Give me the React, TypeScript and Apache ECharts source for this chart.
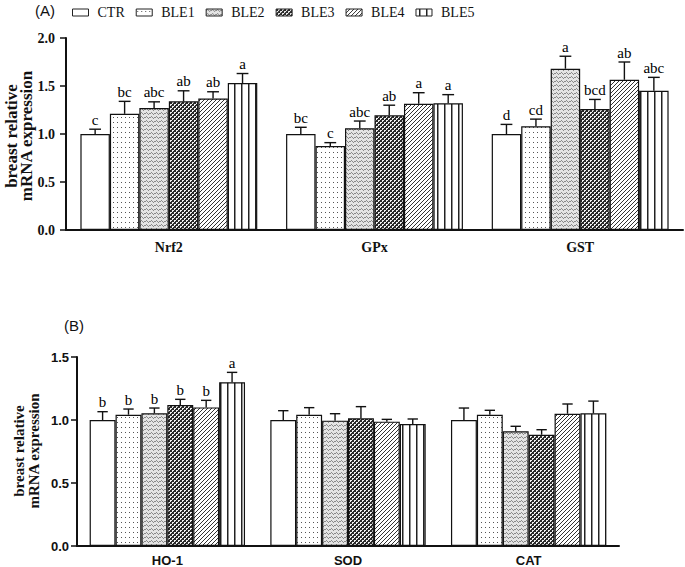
import React, { useEffect, useRef } from "react";
import * as echarts from "echarts";

const groups = ["CTR", "BLE1", "BLE2", "BLE3", "BLE4", "BLE5"];

// Panel A
const categoriesA = ["Nrf2", "GPx", "GST"];
const meanA_CTR = [1.0, 1.0, 1.0];
const meanA_BLE1 = [1.21, 0.875, 1.08];
const meanA_BLE2 = [1.27, 1.06, 1.68];
const meanA_BLE3 = [1.34, 1.195, 1.26];
const meanA_BLE4 = [1.37, 1.315, 1.565];
const meanA_BLE5 = [1.53, 1.32, 1.45];
const errA_CTR = [0.05, 0.07, 0.1];
const errA_BLE1 = [0.13, 0.035, 0.075];
const errA_BLE2 = [0.065, 0.075, 0.13];
const errA_BLE3 = [0.11, 0.105, 0.1];
const errA_BLE4 = [0.07, 0.115, 0.185];
const errA_BLE5 = [0.1, 0.09, 0.14];
const letA_CTR = ["c", "bc", "d"];
const letA_BLE1 = ["bc", "c", "cd"];
const letA_BLE2 = ["abc", "abc", "a"];
const letA_BLE3 = ["ab", "ab", "bcd"];
const letA_BLE4 = ["ab", "a", "ab"];
const letA_BLE5 = ["a", "a", "abc"];

// Panel B
const categoriesB = ["HO-1", "SOD", "CAT"];
const meanB_CTR = [1.0, 1.0, 1.0];
const meanB_BLE1 = [1.042, 1.042, 1.042];
const meanB_BLE2 = [1.053, 0.995, 0.91];
const meanB_BLE3 = [1.119, 1.013, 0.883];
const meanB_BLE4 = [1.1, 0.987, 1.05];
const meanB_BLE5 = [1.3, 0.968, 1.053];
const errB_CTR = [0.066, 0.074, 0.095];
const errB_BLE1 = [0.045, 0.056, 0.035];
const errB_BLE2 = [0.042, 0.055, 0.04];
const errB_BLE3 = [0.045, 0.093, 0.04];
const errB_BLE4 = [0.056, 0.018, 0.077];
const errB_BLE5 = [0.078, 0.04, 0.097];
const letB_CTR = ["b", "", ""];
const letB_BLE1 = ["b", "", ""];
const letB_BLE2 = ["b", "", ""];
const letB_BLE3 = ["b", "", ""];
const letB_BLE4 = ["b", "", ""];
const letB_BLE5 = ["a", "", ""];

const yTicksA = { min: 0, max: 2, interval: 0.5 };
const yTicksB = { min: 0, max: 1.5, interval: 0.5 };

const SERIF = "Liberation Serif";
const SANS = "Liberation Sans";
const GAP = 0.14;

function makePattern(w: number, h: number, draw: (ctx: CanvasRenderingContext2D) => void) {
  const c = document.createElement("canvas");
  c.width = w;
  c.height = h;
  const ctx = c.getContext("2d")!;
  draw(ctx);
  return { image: c, repeat: "repeat", imageWidth: w, imageHeight: h } as any;
}

function buildPatterns() {
  const white = "#ffffff";
  const p0 = white;
  const p1 = makePattern(4, 5, (ctx) => {
    ctx.fillStyle = white;
    ctx.fillRect(0, 0, 4, 5);
    ctx.fillStyle = "#555";
    ctx.fillRect(1, 2, 1, 1);
  });
  const p2 = makePattern(5, 4, (ctx) => {
    ctx.fillStyle = "#e4e4e4";
    ctx.fillRect(0, 0, 5, 4);
    ctx.fillStyle = "#8a8a8a";
    ctx.fillRect(0, 1, 1, 1);
    ctx.fillRect(1, 0, 1, 1);
    ctx.fillRect(2, 1, 1, 1);
    ctx.fillRect(3, 2, 1, 1);
    ctx.fillRect(4, 1, 1, 1);
  });
  const p3 = makePattern(4, 4, (ctx) => {
    ctx.fillStyle = "#f2f2f2";
    ctx.fillRect(0, 0, 4, 4);
    ctx.fillStyle = "#2a2a2a";
    for (let x = 0; x < 4; x++)
      for (let y = 0; y < 4; y++) {
        const a = (x + y) % 4;
        const b = (((x - y) % 4) + 4) % 4;
        if (a === 0 || a === 1 || b === 0) ctx.fillRect(x, y, 1, 1);
      }
  });
  const p4 = makePattern(4, 4, (ctx) => {
    ctx.fillStyle = white;
    ctx.fillRect(0, 0, 4, 4);
    ctx.fillStyle = "#333";
    for (let i = 0; i < 4; i++) ctx.fillRect(i, 3 - i, 1, 1);
  });
  const p5 = makePattern(7, 1, (ctx) => {
    ctx.fillStyle = white;
    ctx.fillRect(0, 0, 7, 1);
    ctx.fillStyle = "#222";
    ctx.fillRect(3, 0, 1.5, 1);
  });
  return [p0, p1, p2, p3, p4, p5];
}

export default function App() {
  const ref = useRef<HTMLDivElement>(null);
  useEffect(() => {
    document.body.style.margin = "0";
    const chart = echarts.init(ref.current!, null, { renderer: "svg" });
    const patterns = buildPatterns();

    const meansA = [meanA_CTR, meanA_BLE1, meanA_BLE2, meanA_BLE3, meanA_BLE4, meanA_BLE5];
    const errsA = [errA_CTR, errA_BLE1, errA_BLE2, errA_BLE3, errA_BLE4, errA_BLE5];
    const letsA = [letA_CTR, letA_BLE1, letA_BLE2, letA_BLE3, letA_BLE4, letA_BLE5];
    const meansB = [meanB_CTR, meanB_BLE1, meanB_BLE2, meanB_BLE3, meanB_BLE4, meanB_BLE5];
    const errsB = [errB_CTR, errB_BLE1, errB_BLE2, errB_BLE3, errB_BLE4, errB_BLE5];
    const letsB = [letB_CTR, letB_BLE1, letB_BLE2, letB_BLE3, letB_BLE4, letB_BLE5];

    const barSeries = (panel: number, means: number[][]) =>
      groups.map((g, gi) => ({
        type: "bar",
        name: g,
        xAxisIndex: panel,
        yAxisIndex: panel,
        data: means[gi],
        barGap: "0%",
        barCategoryGap: GAP * 100 + "%",
        itemStyle: { color: patterns[gi], borderColor: "#111", borderWidth: 1.2 },
        emphasis: { disabled: true },
        z: 2,
      }));

    const errData = (means: number[][], errs: number[][], lets: string[][], ncat: number) => {
      const data: any[] = [];
      const labels: string[] = [];
      for (let c = 0; c < ncat; c++)
        for (let g = 0; g < groups.length; g++) {
          data.push([c, g, means[g][c], errs[g][c]]);
          labels.push(lets[g][c]);
        }
      return { data, labels };
    };

    const errSeries = (panel: number, d: { data: any[]; labels: string[] }, letterSize: number) => ({
      type: "custom",
      xAxisIndex: panel,
      yAxisIndex: panel,
      data: d.data,
      z: 5,
      silent: true,
      itemStyle: { color: "#000" },
      encode: { x: 0, y: 2 },
      renderItem: (params: any, api: any) => {
        const cat = api.value(0);
        const g = api.value(1);
        const mean = api.value(2);
        const err = api.value(3);
        const base = api.coord([cat, mean]);
        const top = api.coord([cat, mean + err]);
        const band = api.size([1, 0])[0];
        const bw = (band * (1 - GAP)) / groups.length;
        const x = base[0] - (groups.length / 2) * bw + (g + 0.5) * bw;
        const cap = bw * 0.2;
        const style = { stroke: "#111", lineWidth: 1.4 };
        const children: any[] = [
          { type: "line", shape: { x1: x, y1: base[1], x2: x, y2: top[1] }, style },
          { type: "line", shape: { x1: x - cap, y1: top[1], x2: x + cap, y2: top[1] }, style },
        ];
        const lab = d.labels[params.dataIndex];
        if (lab)
          children.push({
            type: "text",
            x: x,
            y: top[1] - 2,
            style: {
              text: lab,
              align: "center",
              verticalAlign: "bottom",
              font: `${letterSize}px "${SERIF}"`,
              fill: "#000",
            },
          });
        return { type: "group", children };
      },
    });

    const axisLineStyle = { color: "#111", width: 2 };

    const option: any = {
      animation: false,
      backgroundColor: "#fff",
      legend: {
        data: groups,
        left: 72,
        top: 5,
        padding: 0,
        icon: "rect",
        itemWidth: 16,
        itemHeight: 7,
        itemGap: 11,
        selectedMode: false,
        itemStyle: { borderColor: "#222", borderWidth: 1 },
        textStyle: {
          fontFamily: SERIF,
          fontSize: 14,
          color: "#111",
          width: 22,
          lineHeight: 15,
          padding: [0, 0, 0, 4],
        },
      },
      grid: [
        { left: 66, top: 38, width: 617, height: 192 },
        { left: 77, top: 357, width: 542, height: 189 },
      ],
      xAxis: [
        {
          type: "category",
          gridIndex: 0,
          data: categoriesA,
          axisLine: { lineStyle: axisLineStyle },
          axisTick: { alignWithLabel: true, length: 6, lineStyle: { color: "#111", width: 1.5 } },
          axisLabel: { fontFamily: SERIF, fontWeight: "bold", fontSize: 14, color: "#111", margin: 10 },
        },
        {
          type: "category",
          gridIndex: 1,
          data: categoriesB,
          axisLine: { lineStyle: axisLineStyle },
          axisTick: { alignWithLabel: true, length: 6, lineStyle: { color: "#111", width: 1.5 } },
          axisLabel: { fontFamily: SANS, fontWeight: "bold", fontSize: 13, color: "#111", margin: 8 },
        },
      ],
      yAxis: [
        {
          type: "value",
          gridIndex: 0,
          min: yTicksA.min,
          max: yTicksA.max,
          interval: yTicksA.interval,
          splitLine: { show: false },
          axisLine: { show: true, lineStyle: axisLineStyle },
          axisTick: { show: true, length: 6, lineStyle: { color: "#111", width: 1.5 } },
          axisLabel: {
            fontFamily: SERIF,
            fontWeight: "bold",
            fontSize: 14,
            color: "#111",
            margin: 11,
            formatter: (v: number) => v.toFixed(1),
          },
        },
        {
          type: "value",
          gridIndex: 1,
          min: yTicksB.min,
          max: yTicksB.max,
          interval: yTicksB.interval,
          splitLine: { show: false },
          axisLine: { show: true, lineStyle: axisLineStyle },
          axisTick: { show: true, length: 6, lineStyle: { color: "#111", width: 1.5 } },
          axisLabel: {
            fontFamily: SANS,
            fontWeight: "bold",
            fontSize: 13,
            color: "#111",
            margin: 8,
            formatter: (v: number) => v.toFixed(1),
          },
        },
      ],
      graphic: [
        {
          type: "text",
          left: 35,
          top: 3,
          style: { text: "(A)", font: `15px "${SANS}"`, fill: "#111" },
        },
        {
          type: "text",
          left: 64,
          top: 318,
          style: { text: "(B)", font: `15px "${SANS}"`, fill: "#111" },
        },
        {
          type: "text",
          x: 11,
          y: 136,
          rotation: Math.PI / 2,
          style: {
            text: "breast relative",
            font: `bold 17px "${SERIF}"`,
            fill: "#111",
            align: "center",
            verticalAlign: "middle",
          },
        },
        {
          type: "text",
          x: 26,
          y: 136,
          rotation: Math.PI / 2,
          style: {
            text: "mRNA expression",
            font: `bold 17px "${SERIF}"`,
            fill: "#111",
            align: "center",
            verticalAlign: "middle",
          },
        },
        {
          type: "text",
          x: 19,
          y: 451,
          rotation: Math.PI / 2,
          style: {
            text: "breast relative",
            font: `bold 15px "${SERIF}"`,
            fill: "#111",
            align: "center",
            verticalAlign: "middle",
          },
        },
        {
          type: "text",
          x: 34,
          y: 451,
          rotation: Math.PI / 2,
          style: {
            text: "mRNA expression",
            font: `bold 15px "${SERIF}"`,
            fill: "#111",
            align: "center",
            verticalAlign: "middle",
          },
        },
      ],
      series: [
        ...barSeries(0, meansA),
        ...barSeries(1, meansB),
        errSeries(0, errData(meansA, errsA, letsA, categoriesA.length), 15),
        errSeries(1, errData(meansB, errsB, letsB, categoriesB.length), 15),
      ],
    };
    chart.setOption(option);
    return () => chart.dispose();
  }, []);
  return <div ref={ref} style={{ width: 685, height: 567 }} />;
}
